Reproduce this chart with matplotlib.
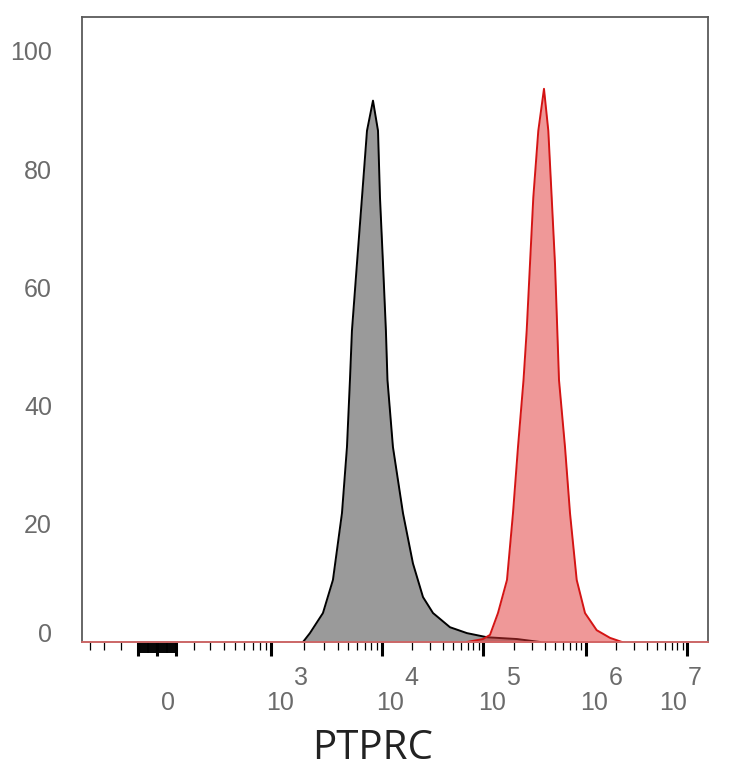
import numpy as np
import matplotlib
matplotlib.use("Agg")
import matplotlib.pyplot as plt

# histogram: intensity vs % of max
gray_x = [1940, 2240, 2940, 3620, 4370, 4850, 5160, 5380, 5970, 6630, 7360, 8340,
          9260, 9650, 10300, 11000, 11400, 12900, 16200, 20300, 25500, 32000,
          47000, 69100, 109000, 213000, 357000]
gray_y = [0, 1.5, 4.9, 10.5, 21.8, 33, 44.3, 52.7, 64, 75.2, 86.5, 91.6,
          86.5, 75.2, 64, 52.7, 44.3, 33, 21.8, 13.3, 7.6, 4.9,
          2.5, 1.5, 0.8, 0.5, 0]

red_x = [69100, 99300, 116200, 139000, 170100, 194600, 217700, 246300, 264600,
         284900, 306800, 343200, 389900, 429600, 463400, 499000, 525500, 546000,
         624500, 698600, 811900, 977900, 1275000, 1726000, 2267000]
red_y = [0, 0.5, 1.2, 4.9, 10.5, 21.8, 33, 44.3, 52.7,
         64, 75.2, 86.5, 93.6, 86.5, 75.2, 64, 52.7, 44.3,
         33, 21.8, 10.5, 4.9, 2, 0.7, 0]

y_ticks = [0, 20, 40, 60, 80, 100]
x_major = [-100, 0, 100, 1e3, 1e4, 1e5, 1e6, 1e7]
x_minor = [-400, -300, -200] + [m * 10 ** e for e in range(2, 7) for m in range(2, 10)]
x_block = list(range(-95, 0, 5)) + list(range(5, 100, 5))
x_label_vals = [0, 1e3, 1e4, 1e5, 1e6, 1e7]
x_label_base = ["0", "10", "10", "10", "10", "10"]
x_label_exp = ["", "3", "4", "5", "6", "7"]

# biexponential-like display scale (FlowJo style), defined by anchor points;
# linear between -100 and 100
lin_v = np.arange(-90, 100, 10)
anchor_v = np.concatenate([[-1e6, -480, -400, -300, -200, -100], lin_v,
                           [100, 200, 300, 500, 1e3, 1e4, 1e5, 1e6, 1e7, 1.6e7, 1e9]])
anchor_p = np.concatenate([[-254, 82, 90, 104, 121, 138], 157 + lin_v * 0.19,
                           [176, 193.7, 210, 235, 271.3, 381.7, 483.3, 586, 687.3, 708, 890]])
anchor_t = np.arcsinh(anchor_v / 100.0)


def fwd(v):
    return np.interp(np.arcsinh(np.asarray(v, dtype=float) / 100.0), anchor_t, anchor_p)


def inv(p):
    return 100.0 * np.sinh(np.interp(np.asarray(p, dtype=float), anchor_p, anchor_t))


tick_font = ["Liberation Sans", "DejaVu Sans"]
tick_color = "#6b6b6b"

fig = plt.figure(figsize=(7.34, 7.68), dpi=100)
ax = fig.add_axes([82 / 734, 1 - 642 / 768, 626 / 734, 625 / 768])

ax.set_xscale("function", functions=(fwd, inv))
ax.set_xlim(-480, 1.6e7)
ax.set_ylim(0, 105.75)

ax.fill_between(gray_x, gray_y, 0, color="#9a9a9a", lw=0, zorder=2)
ax.plot(gray_x, gray_y, color="black", lw=1.4, zorder=3)
ax.fill_between(red_x, red_y, 0, color="#e03333", alpha=0.5, lw=0, zorder=4)
ax.plot(red_x, red_y, color="#d41414", lw=1.4, zorder=5)
ax.axhline(0, color="#e06a6a", lw=1.2, zorder=6, clip_on=False)

for s in ax.spines.values():
    s.set_color("#5a5a5a")
    s.set_linewidth(1.3)

ax.set_yticks(y_ticks)
ax.set_yticklabels([str(t) for t in y_ticks], family=tick_font, fontsize=18, color=tick_color)
ax.tick_params(axis="y", length=0, pad=21.6)
ax.yaxis.get_major_ticks()[0].label1.set_va("baseline")

ax.set_xticks(x_major)
ax.set_xticks(x_minor, minor=True)
ax.set_xticklabels([])
ax.tick_params(axis="x", which="major", length=10, width=2.2, color="black")
ax.tick_params(axis="x", which="minor", length=5.8, width=0.9, color="black")

# dense tick block around zero (drawn as tick marks below the axis)
ax.vlines(x_block, 0, -11 / 625, transform=ax.get_xaxis_transform(),
          colors="black", lw=1.2, clip_on=False, zorder=1)

for v, b, e in zip(x_label_vals, x_label_base, x_label_exp):
    if e == "":
        dx_b = 3.5
    elif e == "7":
        dx_b = -27.8
    else:
        dx_b = -5.5
    ax.annotate(b, xy=(v, 0), xycoords=("data", "axes fraction"),
                xytext=(dx_b, -68), textcoords="offset pixels",
                ha="left", va="baseline", family=tick_font, fontsize=18, color=tick_color)
    if e:
        ax.annotate(e, xy=(v, 0), xycoords=("data", "axes fraction"),
                    xytext=(dx_b + 28.5, -43), textcoords="offset pixels",
                    ha="left", va="baseline", family=tick_font, fontsize=18, color=tick_color)

ax.set_xlabel("PTPRC", family=["Open Sans", "DejaVu Sans"], fontsize=29, color="#222222",
              va="baseline")
ax.xaxis.set_label_coords((373 - 82) / 626, (642 - 759) / 625)

fig.savefig("out.png", dpi=100)
